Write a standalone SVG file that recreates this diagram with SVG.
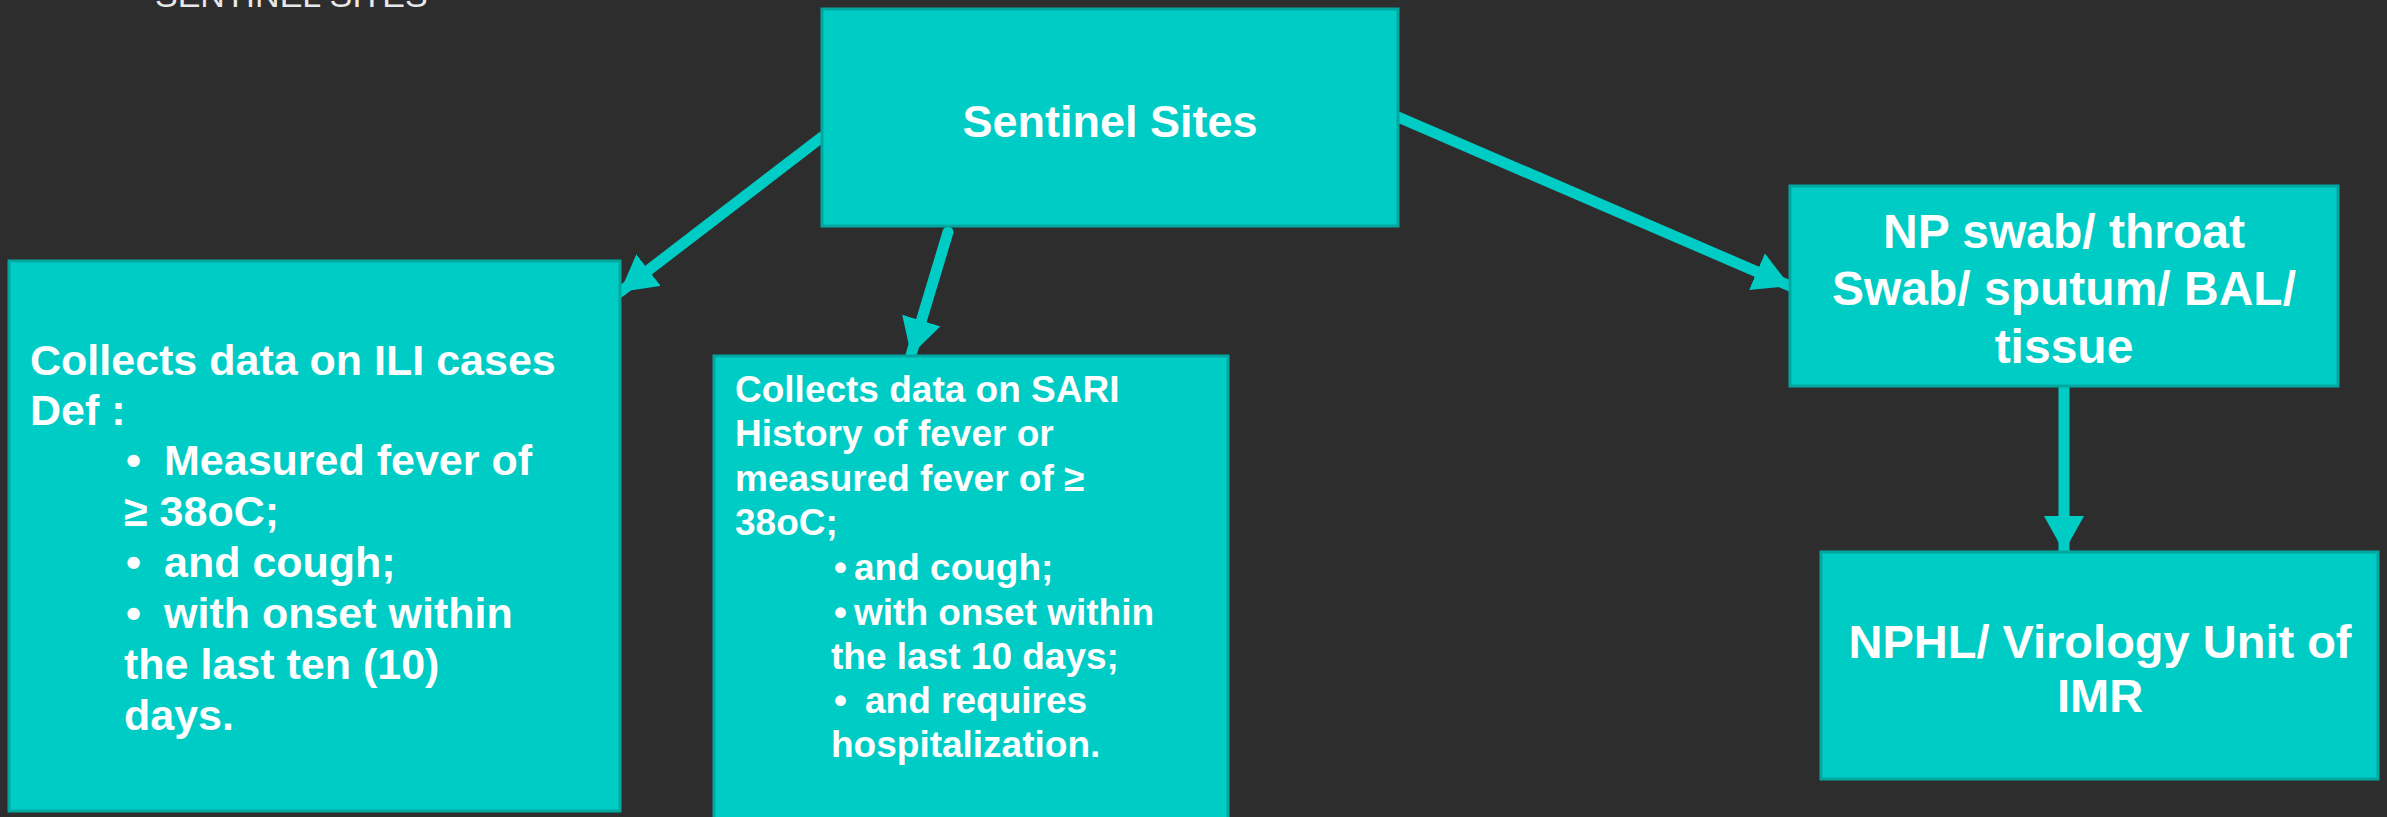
<svg xmlns="http://www.w3.org/2000/svg" width="2387" height="817" viewBox="0 0 2387 817">
<style>
.box{fill:#00CCC6;stroke:#00A7A1;stroke-width:3}
.t{font-family:"Liberation Sans",Arial,sans-serif;font-weight:bold;fill:#FFFFFF}
.c{text-anchor:middle}
.conn{stroke:#00CCC6;stroke-width:11;fill:none;stroke-linecap:round}
</style>
<defs>
<marker id="ah" markerUnits="userSpaceOnUse" markerWidth="38" markerHeight="40" refX="36" refY="20" orient="auto">
<polygon points="0,0 36,20 0,40" fill="#00CCC6"/>
</marker>
</defs>
<rect width="2387" height="817" fill="#2D2D2D"/>
<text x="155" y="7" font-family="'Liberation Sans',Arial,sans-serif" font-size="34" fill="#E8E8E8">SENTINEL SITES</text>
<g id="connectors">
<line class="conn" x1="822" y1="137" x2="620" y2="292" marker-end="url(#ah)"/>
<line class="conn" x1="948" y1="232" x2="911" y2="355" marker-end="url(#ah)"/>
<line class="conn" x1="1398" y1="117" x2="1790" y2="286" marker-end="url(#ah)"/>
<line class="conn" x1="2064" y1="386" x2="2064" y2="552" marker-end="url(#ah)" style="stroke-linecap:butt"/>
</g>
<g id="sentinel">
<rect class="box" x="822" y="9" width="576" height="217"/>
<text class="t c" x="1110" y="137" font-size="45">Sentinel Sites</text>
</g>
<g id="ili">
<rect class="box" x="9" y="261" width="611" height="550"/>
<g class="t" font-size="43">
<text x="30" y="375">Collects data on ILI cases</text>
<text x="30" y="425">Def :</text>
<text y="475"><tspan x="126">•</tspan><tspan x="164">Measured fever of</tspan></text>
<text x="124" y="526">≥ 38oC;</text>
<text y="577"><tspan x="126">•</tspan><tspan x="164">and cough;</tspan></text>
<text y="628"><tspan x="126">•</tspan><tspan x="164">with onset within</tspan></text>
<text x="124" y="679">the last ten (10)</text>
<text x="124" y="730">days.</text>
</g>
</g>
<g id="sari">
<rect class="box" x="714" y="356" width="514" height="480"/>
<g class="t" font-size="37">
<text x="735" y="402">Collects data on SARI</text>
<text x="735" y="446">History of fever or</text>
<text x="735" y="491">measured fever of ≥</text>
<text x="735" y="535">38oC;</text>
<text y="580"><tspan x="834">•</tspan><tspan x="854">and cough;</tspan></text>
<text y="625"><tspan x="834">•</tspan><tspan x="854">with onset within</tspan></text>
<text x="831" y="669">the last 10 days;</text>
<text y="713"><tspan x="834">•</tspan><tspan x="865">and requires</tspan></text>
<text x="831" y="757">hospitalization.</text>
</g>
</g>
<g id="sample">
<rect class="box" x="1790" y="186" width="548" height="200"/>
<g class="t c" font-size="48">
<text x="2064" y="248">NP swab/ throat</text>
<text x="2064" y="305">Swab/ sputum/ BAL/</text>
<text x="2064" y="363">tissue</text>
</g>
</g>
<g id="nphl">
<rect class="box" x="1821" y="552" width="557" height="227"/>
<g class="t c" font-size="47">
<text x="2100" y="658">NPHL/ Virology Unit of</text>
<text x="2100" y="712">IMR</text>
</g>
</g>
</svg>
